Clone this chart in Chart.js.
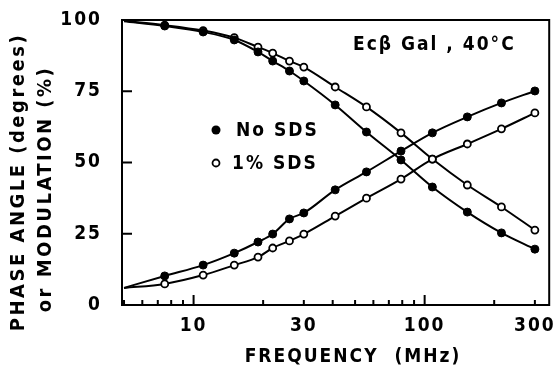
<!DOCTYPE html>
<html lang="en">
<head>
<meta charset="UTF-8">
<title>Phase angle and modulation vs frequency</title>
<script src="https://cdn.jsdelivr.net/npm/chart.js"></script>
<style>
  html, body { margin: 0; padding: 0; background: #fff; }
</style>
</head>
<body>
<canvas id="chart" width="555" height="377"></canvas>
<script>
// frequencies (MHz)
const freq = [5, 7.5, 11, 15, 19, 22, 26, 30, 41, 56, 79, 108, 153, 215, 300];
// phase angle (degrees)
const phaseNoSDS = [99.6, 97.9, 95.8, 93.0, 88.8, 85.6, 82.1, 78.6, 70.2, 60.7, 50.9, 41.4, 32.6, 25.3, 19.6];
const phaseSDS   = [99.7, 98.2, 96.3, 93.8, 90.5, 88.4, 85.6, 83.5, 76.5, 69.5, 60.4, 51.2, 42.1, 34.4, 26.3];
// modulation (%)
const modNoSDS = [6.0, 10.2, 14.0, 18.2, 22.1, 24.9, 30.2, 32.3, 40.4, 46.7, 54.0, 60.4, 66.0, 70.9, 75.1];
const modSDS   = [6.0, 7.4, 10.5, 14.0, 16.8, 20.0, 22.5, 24.9, 31.2, 37.5, 44.2, 51.2, 56.5, 61.8, 67.4];

const xLabels = [10, 30, 100, 300];
const xMinor = [5, 6, 7, 8, 9, 20, 30, 40, 50, 60, 70, 80, 90, 200, 300];
const xMajor = [10, 100];
const yTicks = [0, 25, 50, 75, 100];

const FONT = "'DejaVu Sans Condensed', 'DejaVu Sans', sans-serif";

const pts = (ys) => freq.map((f, i) => ({ x: f, y: ys[i] }));
// first point only anchors the curve at the left axis, no marker
const radii = freq.map((f, i) => i === 0 ? 0 : 4);

const makeSet = (label, ys, filled) => ({
    label,
    data: pts(ys),
    borderColor: '#000',
    borderWidth: 2,
    pointRadius: filled ? radii : radii.map(r => r ? 3.5 : 0),
    pointBackgroundColor: filled ? '#000' : '#fff',
    pointBorderColor: '#000',
    pointBorderWidth: filled ? 1 : 1.8,
    cubicInterpolationMode: 'monotone',
    fill: false
});

const framePlugin = {
    id: 'frame',
    beforeLayout(chart) {
        chart.ctx.letterSpacing = '2px';
    },
    beforeDraw(chart) {
        chart.ctx.letterSpacing = '2px';
    },
    afterDraw(chart) {
        const { ctx, chartArea: a, scales } = chart;
        const x = scales.x, y = scales.y;
        ctx.save();
        ctx.strokeStyle = '#000';
        ctx.lineWidth = 2;
        ctx.strokeRect(a.left, a.top, a.right - a.left, a.bottom - a.top);
        ctx.beginPath();
        xMinor.forEach(v => {
            const px = x.getPixelForValue(v);
            ctx.moveTo(px, a.bottom); ctx.lineTo(px, a.bottom - 5);
        });
        xMajor.forEach(v => {
            const px = x.getPixelForValue(v);
            ctx.moveTo(px, a.bottom); ctx.lineTo(px, a.bottom - 10);
        });
        yTicks.forEach(v => {
            const py = y.getPixelForValue(v);
            ctx.moveTo(a.left, py); ctx.lineTo(a.left + 10, py);
        });
        ctx.stroke();

        ctx.fillStyle = '#000';
        ctx.textAlign = 'center';
        ctx.textBaseline = 'middle';

        // x axis title
        ctx.font = 'bold 19px ' + FONT;
        ctx.letterSpacing = '2px';
        ctx.fillText('FREQUENCY  (MHz)', 353, 357);

        // y axis title, two lines
        ctx.font = 'bold 20px ' + FONT;
        ctx.letterSpacing = '2.5px';
        ctx.save();
        ctx.translate(19, 182);
        ctx.rotate(-Math.PI / 2);
        ctx.fillText('PHASE ANGLE (degrees)', 0, 0);
        ctx.restore();
        ctx.save();
        ctx.translate(46, 189);
        ctx.rotate(-Math.PI / 2);
        ctx.fillText('or MODULATION (%)', 0, 0);
        ctx.restore();

        // legend
        ctx.font = 'bold 19px ' + FONT;
        ctx.letterSpacing = '2px';
        ctx.textAlign = 'left';
        ctx.beginPath();
        ctx.arc(216, 130, 4.5, 0, Math.PI * 2);
        ctx.fill();
        ctx.fillText('No SDS', 236, 131);
        ctx.beginPath();
        ctx.arc(216, 163, 3.5, 0, Math.PI * 2);
        ctx.fillStyle = '#fff';
        ctx.fill();
        ctx.lineWidth = 1.8;
        ctx.stroke();
        ctx.fillStyle = '#000';
        ctx.fillText('1% SDS', 232, 164);

        // annotation
        ctx.fillText('Ec\u03B2 Gal , 40\u00B0C', 353, 45);
        ctx.restore();
    }
};

new Chart(document.getElementById('chart'), {
    type: 'line',
    data: {
        datasets: [
            makeSet('phase, No SDS', phaseNoSDS, true),
            makeSet('phase, 1% SDS', phaseSDS, false),
            makeSet('modulation, No SDS', modNoSDS, true),
            makeSet('modulation, 1% SDS', modSDS, false)
        ]
    },
    options: {
        responsive: false,
        animation: false,
        layout: { padding: { top: 20, right: 4, left: 0, bottom: 0 } },
        plugins: { legend: { display: false }, tooltip: { enabled: false } },
        scales: {
            x: {
                type: 'logarithmic',
                min: 4.9,
                max: 346,
                grid: { display: false, drawTicks: false },
                border: { display: false },
                afterBuildTicks: (s) => { s.ticks = xLabels.map(v => ({ value: v })); },
                afterFit: (s) => {
                    s.height = 72;
                    s.paddingLeft = 0;
                    s.paddingRight = 0;
                },
                ticks: {
                    color: '#000',
                    font: { family: FONT, size: 19, weight: 'bold' },
                    padding: 10,
                    maxRotation: 0,
                    autoSkip: false,
                    callback: (v) => String(v)
                }
            },
            y: {
                min: 0,
                max: 100,
                grid: { display: false, drawTicks: false },
                border: { display: false },
                afterBuildTicks: (s) => { s.ticks = yTicks.map(v => ({ value: v })); },
                afterFit: (s) => {
                    s.width = 122;
                    s.paddingTop = 0;
                    s.paddingBottom = 0;
                },
                ticks: {
                    color: '#000',
                    font: { family: FONT, size: 19, weight: 'bold' },
                    padding: 20
                }
            }
        }
    },
    plugins: [framePlugin]
});
</script>
</body>
</html>
